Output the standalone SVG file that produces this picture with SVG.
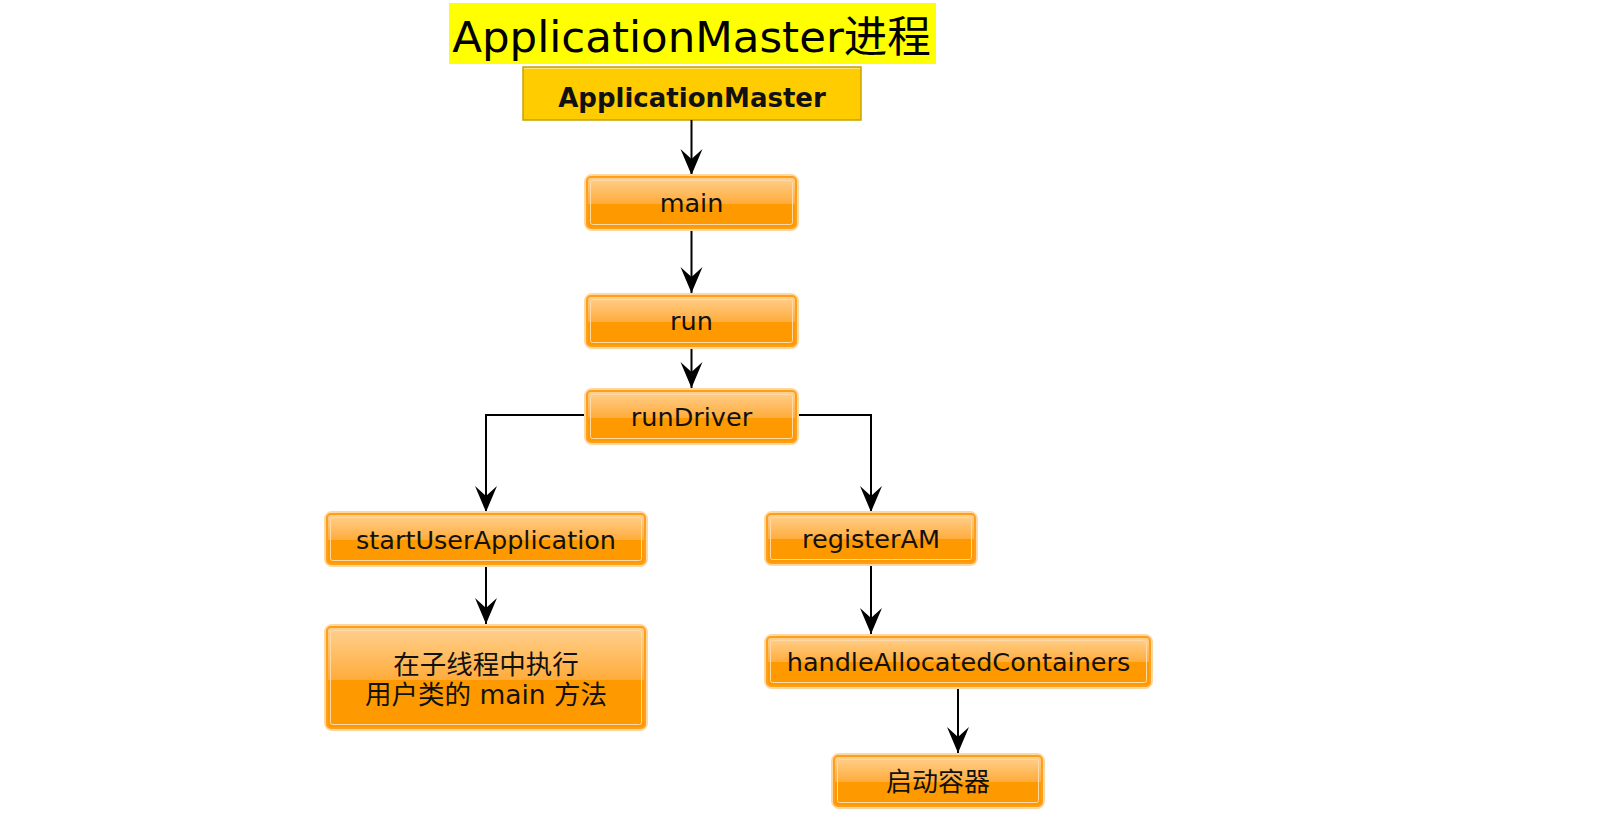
<svg xmlns="http://www.w3.org/2000/svg" width="1612" height="836" viewBox="0 0 1612 836">
<style>
.t{font-family:"DejaVu Sans","Noto Sans CJK SC",sans-serif;font-size:25.5px;fill:#111;text-anchor:middle}
.glow{fill:none;stroke:#FFD7A0;stroke-width:4}
.box{fill:url(#og);stroke:#FF9E1A;stroke-width:2}
.inner{fill:none;stroke:#FFD9A6;stroke-width:1}
.c{fill:none;stroke:#000;stroke-width:2}
</style>
<defs>
<linearGradient id="og" x1="0" y1="0" x2="0" y2="1">
<stop offset="0" stop-color="#FFD190"/>
<stop offset="0.52" stop-color="#FFAC3C"/>
<stop offset="0.52" stop-color="#FF9900"/>
<stop offset="1" stop-color="#FF9900"/>
</linearGradient>
<marker id="ah" markerUnits="userSpaceOnUse" markerWidth="30" markerHeight="26" viewBox="-28 -13 30 26" refX="0" refY="0" orient="auto">
<path d="M0,0 L-26,-11 L-16,0 L-26,11 Z" fill="#000"/>
</marker>
</defs>
<rect width="1612" height="836" fill="#fff"/>
<g id="title">
<rect x="449" y="3" width="487" height="61" fill="#FFFF00"/>
<text x="691.5" y="51.5" style="font-family:'DejaVu Sans','Noto Sans CJK SC',sans-serif;font-size:43.5px;fill:#000;text-anchor:middle">ApplicationMaster进程</text>
</g>
<g id="am">
<rect x="523" y="67" width="338" height="53" fill="#FFCC00" stroke="#C9A200" stroke-width="1.5"/>
<line x1="524" y1="68.5" x2="860" y2="68.5" stroke="#FFE57A" stroke-width="1"/>
<text x="692" y="106.5" class="t" style="font-weight:bold;font-size:26px">ApplicationMaster</text>
</g>
<g id="connectors">
<path class="c" d="M691.5,120 V175" marker-end="url(#ah)"/>
<path class="c" d="M691.5,229 V293" marker-end="url(#ah)"/>
<path class="c" d="M691.5,347 V388" marker-end="url(#ah)"/>
<path class="c" d="M586,415 H486 V512" marker-end="url(#ah)"/>
<path class="c" d="M797,415 H871 V512" marker-end="url(#ah)"/>
<path class="c" d="M486,565 V624" marker-end="url(#ah)"/>
<path class="c" d="M871,564 V634" marker-end="url(#ah)"/>
<path class="c" d="M958,687 V753" marker-end="url(#ah)"/>
</g>
<g id="main">
<rect class="glow" x="586" y="176" width="211" height="53" rx="6"/>
<rect class="box" x="587" y="177" width="209" height="51" rx="4"/>
<rect class="inner" x="590.5" y="180.5" width="202" height="44" rx="2"/>
<text class="t" x="691.5" y="211.5">main</text>
</g>
<g id="run">
<rect class="glow" x="586" y="295" width="211" height="52" rx="6"/>
<rect class="box" x="587" y="296" width="209" height="50" rx="4"/>
<rect class="inner" x="590.5" y="299.5" width="202" height="43" rx="2"/>
<text class="t" x="691.5" y="330">run</text>
</g>
<g id="runDriver">
<rect class="glow" x="586" y="390" width="211" height="53" rx="6"/>
<rect class="box" x="587" y="391" width="209" height="51" rx="4"/>
<rect class="inner" x="590.5" y="394.5" width="202" height="44" rx="2"/>
<text class="t" x="691.5" y="425.5">runDriver</text>
</g>
<g id="startUserApplication">
<rect class="glow" x="326" y="513" width="320" height="52" rx="6"/>
<rect class="box" x="327" y="514" width="318" height="50" rx="4"/>
<rect class="inner" x="330.5" y="517.5" width="311" height="43" rx="2"/>
<text class="t" x="486" y="548.5">startUserApplication</text>
</g>
<g id="userMain">
<rect class="glow" x="326" y="626" width="320" height="103" rx="6"/>
<rect class="box" x="327" y="627" width="318" height="101" rx="4"/>
<rect class="inner" x="330.5" y="630.5" width="311" height="94" rx="2"/>
<text class="t" x="486" y="674" style="font-size:26.5px">在子线程中执行</text>
<text class="t" x="486" y="704" style="font-size:26.5px">用户类的 main 方法</text>
</g>
<g id="registerAM">
<rect class="glow" x="766" y="513" width="210" height="51" rx="6"/>
<rect class="box" x="767" y="514" width="208" height="49" rx="4"/>
<rect class="inner" x="770.5" y="517.5" width="201" height="42" rx="2"/>
<text class="t" x="871" y="548">registerAM</text>
</g>
<g id="handleAllocatedContainers">
<rect class="glow" x="766" y="636" width="385" height="51" rx="6"/>
<rect class="box" x="767" y="637" width="383" height="49" rx="4"/>
<rect class="inner" x="770.5" y="640.5" width="376" height="42" rx="2"/>
<text class="t" x="958.5" y="671">handleAllocatedContainers</text>
</g>
<g id="startContainer">
<rect class="glow" x="833" y="755" width="210" height="52" rx="6"/>
<rect class="box" x="834" y="756" width="208" height="50" rx="4"/>
<rect class="inner" x="837.5" y="759.5" width="201" height="43" rx="2"/>
<text class="t" x="938" y="790.5" style="font-size:26px">启动容器</text>
</g>
</svg>
